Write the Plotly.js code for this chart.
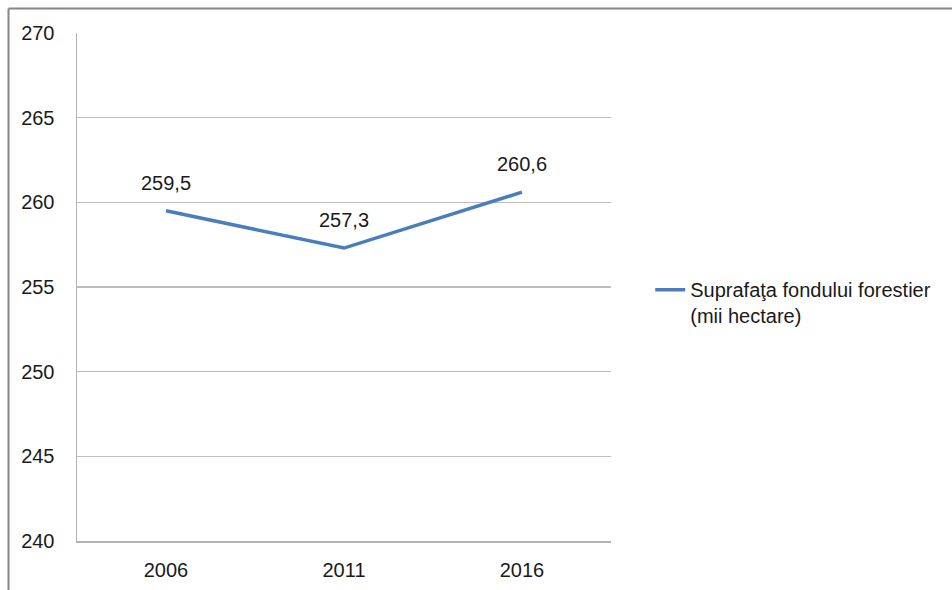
<!DOCTYPE html>
<html>
<head>
<meta charset="utf-8">
<script src="https://cdn.plot.ly/plotly-3.0.1.min.js"></script>
<style>
  html, body { margin: 0; padding: 0; background: #ffffff; }
  #chart { width: 952px; height: 590px; }
</style>
</head>
<body>
<div id="chart"></div>
<script>
const years = ["2006", "2011", "2016"];
const surface = [259.5, 257.3, 260.6];
const seriesName = "Suprafaţa fondului forestier<br>(mii hectare)";
const yTicks = [240, 245, 250, 255, 260, 265, 270];

const fmt = v => v.toFixed(1).replace(".", ",");
const FONT = "Liberation Sans, Arial, sans-serif";
const FS = 20;

const trace = {
  type: "scatter",
  mode: "lines",
  x: years,
  y: surface,
  name: seriesName,
  line: { color: "#4a7ebb", width: 3.5 },
  hoverinfo: "x+y"
};

const annotations = years.map((yr, i) => ({
  x: i,
  y: surface[i],
  xref: "x",
  yref: "y",
  text: fmt(surface[i]),
  showarrow: false,
  xanchor: "center",
  yanchor: "middle",
  yshift: 28,
  font: { family: FONT, size: FS, color: "#1a1a1a" }
}));

const layout = {
  width: 952,
  height: 590,
  margin: { l: 77, r: 341, t: 33, b: 49 },
  paper_bgcolor: "#ffffff",
  plot_bgcolor: "#ffffff",
  font: { family: FONT, size: FS, color: "#1a1a1a" },
  showlegend: true,
  legend: {
    xref: "container",
    yref: "container",
    x: 0.683,
    y: 0.487,
    xanchor: "left",
    yanchor: "middle",
    valign: "top",
    bgcolor: "rgba(0,0,0,0)",
    font: { family: FONT, size: FS, color: "#1a1a1a" }
  },
  xaxis: {
    type: "category",
    range: [-0.5, 2.5],
    showgrid: false,
    showline: true,
    linecolor: "#b3b3b3",
    linewidth: 1.5,
    ticks: "",
    ticklabelstandoff: 10,
    tickfont: { family: FONT, size: FS, color: "#1a1a1a" },
    zeroline: false,
    fixedrange: true
  },
  yaxis: {
    range: [240, 270],
    tickvals: yTicks,
    ticktext: yTicks.map(String),
    showgrid: true,
    gridcolor: "#bdbdbd",
    gridwidth: 1.5,
    showline: true,
    linecolor: "#b3b3b3",
    linewidth: 1.5,
    ticks: "",
    ticklabelstandoff: 17,
    tickfont: { family: FONT, size: FS, color: "#1a1a1a" },
    zeroline: false,
    fixedrange: true
  },
  annotations: annotations,
  shapes: [
    {
      type: "line", xref: "paper", yref: "paper",
      x0: (8.5 - 77) / 534, x1: (960 - 77) / 534,
      y0: (541 - 8.5) / 508, y1: (541 - 8.5) / 508,
      line: { color: "#868686", width: 2 }
    },
    {
      type: "line", xref: "paper", yref: "paper",
      x0: (8.5 - 77) / 534, x1: (8.5 - 77) / 534,
      y0: (541 - 8.5) / 508, y1: (541 - 600) / 508,
      line: { color: "#868686", width: 2 }
    }
  ]
};

Plotly.newPlot("chart", [trace], layout, { displayModeBar: false, staticPlot: true });
</script>
</body>
</html>
